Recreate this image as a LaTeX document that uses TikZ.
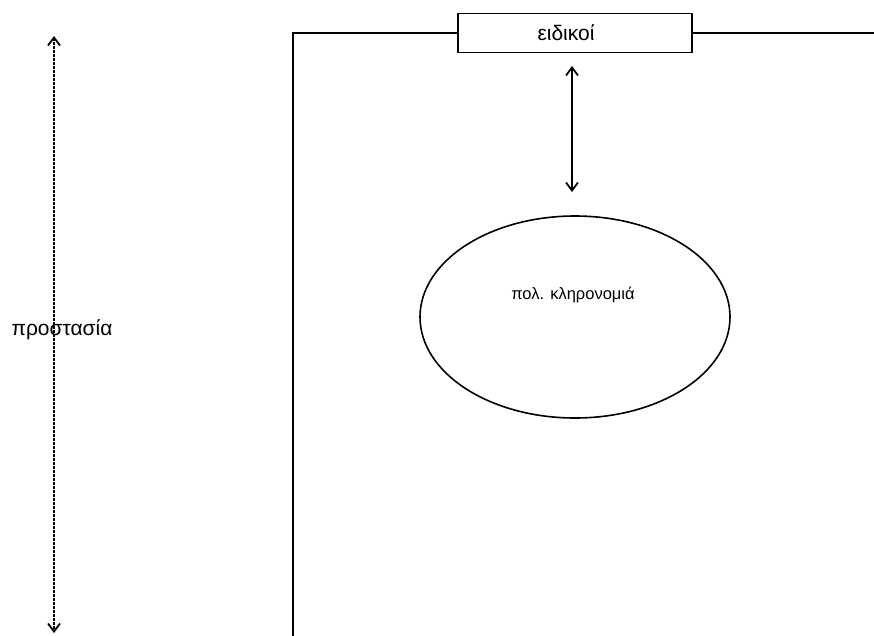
\documentclass[tikz,border=0pt]{standalone}
\usepackage{fontspec}
\setmainfont{Liberation Sans}
\usetikzlibrary{arrows.meta,shapes.geometric}
\begin{document}
\begin{tikzpicture}[x=1pt,y=-1pt,
  lbl/.style={inner sep=0pt},
  big/.style={font=\fontsize{21}{24}\selectfont},
  mid/.style={font=\fontsize{16.5}{20}\selectfont},
  frame/.style={line width=1.8pt},
  barb/.tip={Straight Barb[length=8pt,width=12pt,line width=1.8pt]},
]
\useasboundingbox (0,0) rectangle (874,635);
% left dotted arrow
\coordinate (pt) at (54,36);
\coordinate (pb) at (54,633);
\draw[line width=2.6pt, dash pattern=on 2.2pt off 1.8pt, line cap=butt, barb-barb] (pt) -- (pb);
\node[lbl,big] (prot) at (62,330) {προστασία};
% box
\node[draw, line width=1.8pt, minimum width=234pt, minimum height=39pt, inner sep=0pt] (eid) at (575,33) {};
\node[lbl,big] (eidt) at (566,33) {ειδικοί};
% frame
\coordinate (fb) at (293,636);
\coordinate (fr) at (875,33);
\draw[frame] (fb) |- (eid.west);
\draw[frame] (eid.east) -- (fr);
% ellipse
\node[draw, ellipse, line width=1.6pt, minimum width=310pt, minimum height=202pt, inner sep=0pt] (ell) at (575,317) {};
\node[lbl,mid] (pk) at (573,295) {πολ. κληρονομιά};
% double arrow
\coordinate (a1) at (572,66);
\coordinate (a2) at (572,192);
\draw[line width=1.6pt, barb-barb] (a1) -- (a2);
\end{tikzpicture}
\end{document}
